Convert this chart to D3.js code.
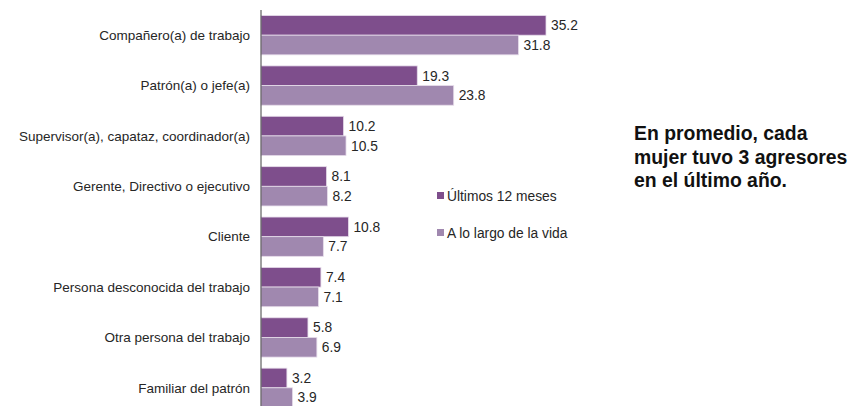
<!DOCTYPE html>
<html>
<head>
<meta charset="utf-8">
<script src="https://cdn.jsdelivr.net/npm/d3@7"></script>
<style>
  body { margin: 0; background: #fff; }
  text { font-family: "Liberation Sans", Arial, sans-serif; fill: #262626; }
</style>
</head>
<body>
<div id="chart"></div>
<script>
// categories and values
var categories = [
    "Compañero(a) de trabajo",
    "Patrón(a) o jefe(a)",
    "Supervisor(a), capataz, coordinador(a)",
    "Gerente, Directivo o ejecutivo",
    "Cliente",
    "Persona desconocida del trabajo",
    "Otra persona del trabajo",
    "Familiar del patrón"
];
var ultimos12 = [35.2, 19.3, 10.2, 8.1, 10.8, 7.4, 5.8, 3.2];
var largoVida = [31.8, 23.8, 10.5, 8.2, 7.7, 7.1, 6.9, 3.9];
var seriesNames = ["Últimos 12 meses", "A lo largo de la vida"];
var colors = ["#7e4e8c", "#a088af"];

var svgWidth = 863;
var svgHeight = 406;
var margin = { top: 10, left: 261 };
var fontSize = "13.8px";

var svg = d3.select("#chart")
    .append("svg")
    .attr("width", svgWidth)
    .attr("height", svgHeight);

var chartGroup = svg.append("g")
    .attr("transform", `translate(${margin.left}, 0)`);

// 35.2 -> 285px
var xScale = d3.scaleLinear()
    .domain([0, 35.2])
    .range([0, 285]);

var yScale = d3.scaleBand()
    .domain(categories)
    .range([10, 413])
    .paddingInner(0.22)
    .paddingOuter(0.11);

var inner = d3.scaleBand()
    .domain([0, 1])
    .range([0, yScale.bandwidth()]);

var rows = categories.map((c, i) => ({ cat: c, vals: [ultimos12[i], largoVida[i]] }));

var groups = chartGroup.selectAll(".grp")
    .data(rows)
    .enter()
    .append("g")
    .attr("transform", d => `translate(0, ${yScale(d.cat)})`);

groups.selectAll("rect")
    .data(d => d.vals)
    .enter()
    .append("rect")
    .attr("x", 0)
    .attr("y", (d, i) => inner(i))
    .attr("width", d => xScale(d))
    .attr("height", inner.bandwidth())
    .attr("fill", (d, i) => colors[i])
    .attr("stroke", "#e6dcea")
    .attr("stroke-width", 0.8);

groups.selectAll(".val")
    .data(d => d.vals)
    .enter()
    .append("text")
    .attr("x", d => xScale(d) + 5)
    .attr("y", (d, i) => inner(i) + inner.bandwidth() / 2)
    .attr("dy", "0.35em")
    .style("font-size", fontSize)
    .text(d => d.toFixed(1));

// category labels
chartGroup.selectAll(".cat")
    .data(categories)
    .enter()
    .append("text")
    .attr("x", -11)
    .attr("y", d => yScale(d) + yScale.bandwidth() / 2)
    .attr("dy", "0.35em")
    .attr("text-anchor", "end")
    .style("font-size", "13.5px")
    .text(d => d);

// axis line
chartGroup.append("line")
    .attr("x1", 0).attr("x2", 0)
    .attr("y1", 10).attr("y2", svgHeight)
    .attr("stroke", "#404040")
    .attr("stroke-width", 1);

// legend
var legend = svg.append("g")
    .attr("transform", "translate(437, 196)");

seriesNames.forEach(function(name, i) {
    legend.append("rect")
        .attr("x", 0)
        .attr("y", i * 37 - 4)
        .attr("width", 7)
        .attr("height", 7)
        .attr("fill", colors[i]);
    legend.append("text")
        .attr("x", 10)
        .attr("y", i * 37)
        .attr("dy", "0.35em")
        .style("font-size", fontSize)
        .text(name);
});

// annotation
var note = ["En promedio, cada", "mujer tuvo 3 agresores", "en el último año."];
svg.append("g")
    .selectAll("text")
    .data(note)
    .enter()
    .append("text")
    .attr("x", 634)
    .attr("y", (d, i) => 140 + i * 23.5)
    .style("font-size", "19.4px")
    .style("font-weight", "bold")
    .style("fill", "#111")
    .text(d => d);
</script>
</body>
</html>
